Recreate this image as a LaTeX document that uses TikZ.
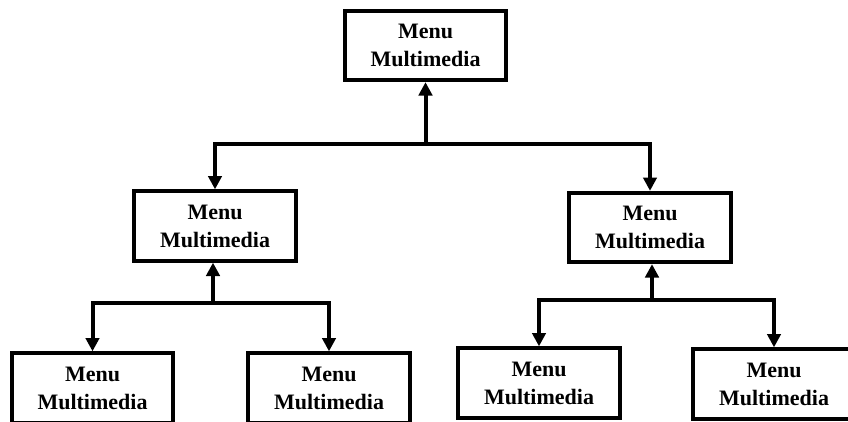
\documentclass[tikz,border=0pt]{standalone}
\usepackage{fontspec}
\setmainfont{Liberation Serif}
\usetikzlibrary{arrows.meta}
\begin{document}
\begin{tikzpicture}[x=0.75pt, y=-0.75pt, line join=miter, >={Triangle[width=10pt,length=10pt]},
		menubox/.style={draw, line width=3pt, fill=white, minimum width=121pt, minimum height=52pt, inner sep=0pt, align=center, font=\fontsize{16.5}{21}\selectfont\bfseries},
		conn/.style={line width=3pt}]
	\useasboundingbox (0,0) rectangle (848,421);
	\node[menubox] (top) at (425.5,45.5) {Menu\\Multimedia};
	\node[menubox] (midL) at (215,226) {Menu\\Multimedia};
	\node[menubox] (midR) at (650,227.5) {Menu\\Multimedia};
	\node[menubox] (botA) at (92.5,388) {Menu\\Multimedia};
	\node[menubox] (botB) at (329,388) {Menu\\Multimedia};
	\node[menubox] (botC) at (539,383) {Menu\\Multimedia};
	\node[menubox] (botD) at (774,384) {Menu\\Multimedia};
	\coordinate (jtop) at (425.5,144);
	\coordinate (jleft) at (213,303);
	\coordinate (jright) at (652,300);
	\draw[conn,->] (jtop) -- (top.south);
	\draw[conn,->] (jtop) -| (midL.north);
	\draw[conn,->] (jtop) -| (midR.north);
	\draw[conn,->] (jleft) -- (jleft |- midL.south);
	\draw[conn,->] (jleft) -| (botA.north);
	\draw[conn,->] (jleft) -| (botB.north);
	\draw[conn,->] (jright) -- (jright |- midR.south);
	\draw[conn,->] (jright) -| (botC.north);
	\draw[conn,->] (jright) -| (botD.north);
\end{tikzpicture}
\end{document}
